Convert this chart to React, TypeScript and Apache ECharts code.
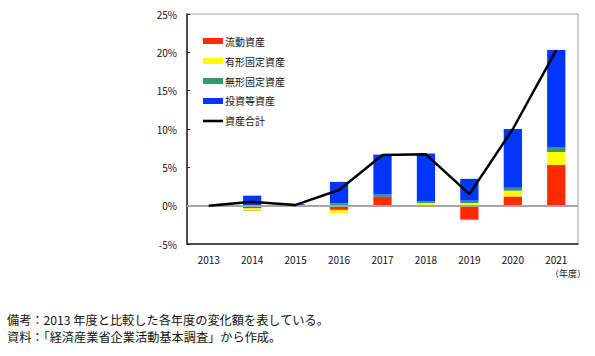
import React, { useEffect, useRef } from "react";
import * as echarts from "echarts";

const years = ["2013", "2014", "2015", "2016", "2017", "2018", "2019", "2020", "2021"];
const current = [0, -0.35, -0.15, -0.55, 1.15, 0.1, -1.83, 1.2, 5.3];
const tangible = [0, -0.3, -0.05, -0.45, 0, 0.25, 0.35, 0.75, 1.7];
const intangible = [0, -0.05, 0.1, 0.3, 0.3, 0.2, 0.3, 0.4, 0.6];
const investment = [0, 1.3, 0.1, 2.8, 5.2, 6.25, 2.85, 7.65, 12.7];
const total = [0, 0.5, 0.1, 2.05, 6.6, 6.7, 1.5, 10.0, 20.3];
const seriesNames = ["流動資産", "有形固定資産", "無形固定資産", "投資等資産", "資産合計"];
const note1 = "備考：2013 年度と比較した各年度の変化額を表している。";
const note2 = "資料：「経済産業省企業活動基本調査」から作成。";

const FONT = "'Noto Sans CJK JP', 'Noto Sans', sans-serif";
const LINE_ICON = "path://M0,0 M20,6 M0,1.7 L20,1.7 L20,4.3 L0,4.3 Z";

export default function App() {
  const ref = useRef<HTMLDivElement>(null);
  useEffect(() => {
    if (!ref.current) return;
    const chart = echarts.init(ref.current, undefined, { renderer: "svg" });
    const barColors = ["#ff2a00", "#ffff00", "#339966", "#0036ff"];
    const barData = [current, tangible, intangible, investment];
    const bars = barData.map((d, i) => ({
      name: seriesNames[i],
      type: "bar",
      stack: "a",
      data: d,
      barWidth: "42%",
      itemStyle: { color: barColors[i] },
      z: 2,
      ...(i === 0
        ? {
            markLine: {
              silent: true,
              symbol: "none",
              label: { show: false },
              lineStyle: { color: "#a6a6a6", width: 2, type: "solid" },
              data: [{ yAxis: 0 }],
              z: 3,
            },
          }
        : {}),
    }));
    chart.setOption({
      animation: false,
      textStyle: { fontFamily: FONT },
      grid: {
        left: 187,
        right: 17,
        top: 14,
        bottom: 112,
        show: true,
        borderColor: "#a0a0a0",
        borderWidth: 1,
      },
      legend: {
        orient: "vertical",
        left: 198,
        top: 31,
        itemWidth: 20,
        itemHeight: 6,
        itemGap: 10,
        textStyle: { fontSize: 10, color: "#111", fontFamily: FONT, padding: [0, 0, 0, -3] },
        data: [
          { name: seriesNames[0], icon: "rect" },
          { name: seriesNames[1], icon: "rect" },
          { name: seriesNames[2], icon: "rect" },
          { name: seriesNames[3], icon: "rect" },
          { name: seriesNames[4], icon: LINE_ICON, itemStyle: { color: "#000" } },
        ],
      },
      xAxis: {
        type: "category",
        data: years,
        axisLine: { onZero: false, lineStyle: { color: "#222", width: 1.5 } },
        axisTick: { inside: true, length: 6, lineStyle: { color: "#222" } },
        axisLabel: { fontSize: 10, color: "#111", margin: 10, fontFamily: FONT },
        name: "（年度）",
        nameLocation: "end",
        nameGap: 0,
        nameTextStyle: {
          fontSize: 9,
          color: "#111",
          fontFamily: FONT,
          align: "right",
          verticalAlign: "top",
          padding: [25, -8, 0, 0],
        },
      },
      yAxis: {
        type: "value",
        min: -5,
        max: 25,
        interval: 5,
        axisLine: { show: true, lineStyle: { color: "#222", width: 1.5 } },
        axisTick: { show: true, inside: true, length: 3, lineStyle: { color: "#222" } },
        splitLine: { show: false },
        axisLabel: { formatter: "{value}%", fontSize: 10, color: "#111", margin: 10, fontFamily: FONT },
      },
      series: [
        ...bars,
        {
          name: seriesNames[4],
          type: "line",
          data: total,
          symbol: "none",
          lineStyle: { color: "#000", width: 2.5 },
          itemStyle: { color: "#000" },
          z: 5,
        },
      ],
      graphic: [
        {
          type: "text",
          left: 7,
          top: 314,
          style: { text: note1, fontSize: 12.2, fill: "#111", fontFamily: FONT },
        },
        {
          type: "text",
          left: 7,
          top: 331,
          style: { text: note2, fontSize: 12.2, fill: "#111", fontFamily: FONT },
        },
      ],
    });
    return () => chart.dispose();
  }, []);
  return (
    <div style={{ position: "absolute", left: 0, top: 0, width: 595, height: 356, background: "#fff" }}>
      <div ref={ref} style={{ width: 595, height: 356 }} />
    </div>
  );
}
